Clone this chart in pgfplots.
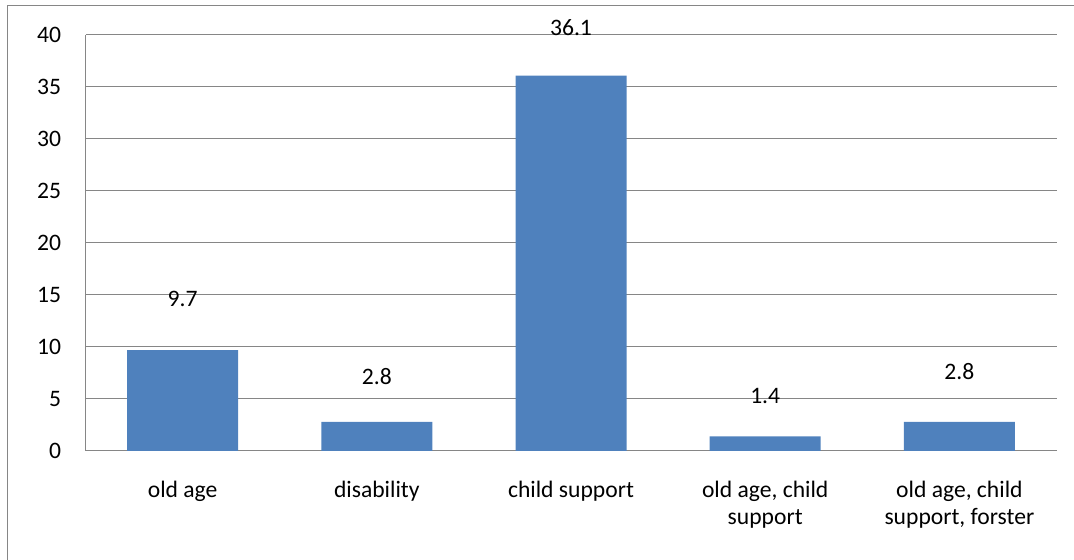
\documentclass[border=0pt]{standalone}
\usepackage{fontspec}
\setmainfont{Carlito}
\usepackage{pgfplots}
\pgfplotsset{compat=1.18}
\definecolor{barblue}{HTML}{4F81BD}
\definecolor{gridgray}{RGB}{134,134,134}
\begin{document}
\begin{tikzpicture}
\useasboundingbox (0,0) rectangle (537pt,280pt);
\draw[gridgray, line width=0.75pt] (3.75pt,-10pt) -- (3.75pt,277.25pt) -- (550pt,277.25pt);
\begin{axis}[
  at={(42.75pt,54.5pt)}, anchor=south west,
  width=485.5pt, height=208pt, scale only axis,
  xmin=-0.5, xmax=4.5, ymin=0, ymax=40,
  ytick={0,5,...,40}, xtick={0,...,4},
  xticklabels={old age, disability, child support, {old age, child\\support}, {old age, child\\support, forster}},
  axis x line*=bottom, axis y line*=left,
  axis line style={gridgray, line width=0.5pt, -},
  ymajorgrids, grid style={gridgray, line width=0.5pt},
  major tick length=0pt,
  tick label style={font=\fontsize{11.8}{13.4}\selectfont, inner sep=0pt},
  yticklabel style={anchor=east, xshift=-12pt},
  xticklabel style={anchor=north, align=center, yshift=-15pt},
  /pgf/number format/assume math mode=true,
  clip=false,
]
\addplot[ybar, bar width=55.5pt, fill=barblue, draw=none] coordinates {(0,9.7) (1,2.8) (2,36.1) (3,1.4) (4,2.8)};
\addplot[draw=none, mark=none, nodes near coords, point meta=explicit symbolic,
  nodes near coords align=center,
  every node near coord/.style={font=\fontsize{11.8}{13.4}\selectfont, inner sep=0pt, anchor=center}]
  coordinates {(0,14.65)[9.7] (1,7.15)[2.8] (2,40.7)[36.1] (3,5.3)[1.4] (4,7.6)[2.8]};
\end{axis}
\end{tikzpicture}
\end{document}
